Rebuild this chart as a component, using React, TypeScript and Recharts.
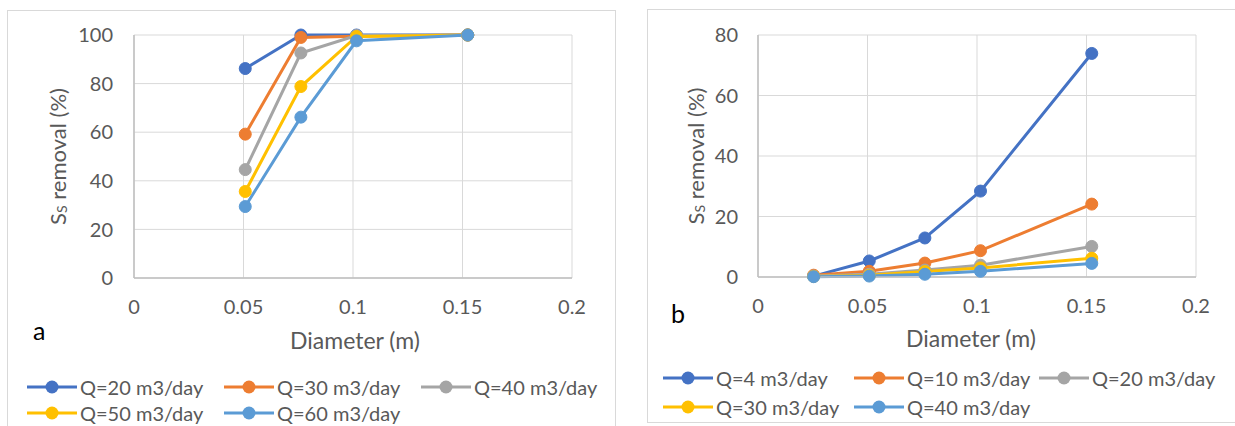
import { CartesianGrid, Line, LineChart, XAxis, YAxis } from 'recharts'

// diameters in metres (2, 3, 4, 6 inch pipes, plus 1 inch in panel b)
const diameterA = [0.0508, 0.0762, 0.1016, 0.1524]
const diameterB = [0.0254, 0.0508, 0.0762, 0.1016, 0.1524]

const namesA = ['Q=20 m3/day', 'Q=30 m3/day', 'Q=40 m3/day', 'Q=50 m3/day', 'Q=60 m3/day']
const q20A = [86.2, 100, 100, 100]
const q30A = [59.2, 99, 99.5, 100]
const q40A = [44.6, 92.6, 99.8, 100]
const q50A = [35.6, 78.8, 99.4, 100]
const q60A = [29.4, 66.2, 97.6, 100]

const namesB = ['Q=4 m3/day', 'Q=10 m3/day', 'Q=20 m3/day', 'Q=30 m3/day', 'Q=40 m3/day']
const q4B = [0.3, 5.3, 12.9, 28.4, 73.9]
const q10B = [0.6, 1.9, 4.6, 8.7, 24.1]
const q20B = [0.3, 0.9, 2.3, 3.9, 10.1]
const q30B = [0.2, 0.6, 1.8, 3.0, 6.2]
const q40B = [0.1, 0.3, 0.9, 1.9, 4.5]

const xTicks = [0, 0.05, 0.1, 0.15, 0.2]
const yTicksA = [0, 20, 40, 60, 80, 100]
const yTicksB = [0, 20, 40, 60, 80]

const colors = ['#4472C4', '#ED7D31', '#A5A5A5', '#FFC000', '#5B9BD5']
const FONT = 'Lato, "Open Sans", sans-serif'
const TEXT = '#595959'

const toPoints = (xs: number[], ys: number[]) => xs.map((d, i) => ({ d, v: ys[i] }))

const seriesA = [q20A, q30A, q40A, q50A, q60A].map((ys, i) => ({
	name: namesA[i],
	data: toPoints(diameterA, ys),
}))
const seriesB = [q4B, q10B, q20B, q30B, q40B].map((ys, i) => ({
	name: namesB[i],
	data: toPoints(diameterB, ys),
}))

const YTitle = ({ viewBox, dx }: { viewBox?: any; dx: number }) => {
	const cx = viewBox.x + dx
	const cy = viewBox.y + viewBox.height / 2
	return (
		<text
			x={cx}
			y={cy}
			transform={`rotate(-90, ${cx}, ${cy})`}
			textAnchor="middle"
			dominantBaseline="central"
			fill={TEXT}
			fontSize={22}
			fontFamily={FONT}
		>
			S
			<tspan fontSize={14} dy={4}>
				S
			</tspan>
			<tspan dy={-4}> removal (%)</tspan>
		</text>
	)
}

const XTitle = ({ viewBox, cx, cy }: { viewBox?: any; cx: number; cy: number }) => (
	<text
		x={cx}
		y={viewBox.y + cy}
		textAnchor="middle"
		dominantBaseline="central"
		fill={TEXT}
		fontSize={23}
		fontFamily={FONT}
	>
		Diameter (m)
	</text>
)

const fmt = (v: number) => String(v)

interface PanelProps {
	series: { name: string; data: { d: number; v: number }[] }[]
	yMax: number
	yTicks: number[]
	width: number
	margin: { top: number; right: number; bottom: number; left: number }
	yLabelDx: number
	xLabelX: number
	xLabelY: number
	yTickMargin: number
}

function Panel({ series, yMax, yTicks, width, margin, yLabelDx, xLabelX, xLabelY, yTickMargin }: PanelProps) {
	return (
		<LineChart width={width} height={426} margin={margin}>
			<CartesianGrid stroke="#D9D9D9" strokeWidth={1} />
			<XAxis
				type="number"
				dataKey="d"
				domain={[0, 0.2]}
				ticks={xTicks}
				tickFormatter={fmt}
				tickLine={false}
				axisLine={{ stroke: '#BFBFBF', strokeWidth: 1.5 }}
				tick={{ fill: TEXT, fontSize: 20, fontFamily: FONT }}
				tickMargin={16}
				height={30}
				allowDuplicatedCategory={false}
				label={<XTitle cx={xLabelX} cy={xLabelY} />}
			/>
			<YAxis
				type="number"
				domain={[0, yMax]}
				ticks={yTicks}
				tickLine={false}
				axisLine={{ stroke: '#BFBFBF', strokeWidth: 1.5 }}
				tick={{ fill: TEXT, fontSize: 20, fontFamily: FONT }}
				tickMargin={yTickMargin}
				width={100}
				label={<YTitle dx={yLabelDx} />}
			/>
			{series.map((s, i) => (
				<Line
					key={s.name}
					data={s.data}
					dataKey="v"
					name={s.name}
					stroke={colors[i]}
					strokeWidth={3}
					dot={{ r: 6, fill: colors[i], stroke: colors[i], strokeWidth: 1 }}
					activeDot={false}
					isAnimationActive={false}
				/>
			))}
		</LineChart>
	)
}

function LegendBlock({
	names,
	cols,
	rows,
}: {
	names: string[]
	cols: number[]
	rows: number[]
}) {
	return (
		<>
			{names.map((n, i) => (
				<div
					key={n}
					style={{
						position: 'absolute',
						left: cols[i % 3],
						top: rows[Math.floor(i / 3)] - 12,
						height: 24,
						display: 'flex',
						alignItems: 'center',
						whiteSpace: 'nowrap',
					}}
				>
					<svg width={52} height={24}>
						<line x1={1} y1={12} x2={51} y2={12} stroke={colors[i]} strokeWidth={3} />
						<circle cx={26} cy={12} r={6.5} fill={colors[i]} />
					</svg>
					<span
						style={{
							marginLeft: 2,
							color: TEXT,
							fontSize: 20,
							fontFamily: FONT,
						}}
					>
						{n}
					</span>
				</div>
			))}
		</>
	)
}

export default function App() {
	return (
		<div
			style={{
				position: 'absolute',
				left: 0,
				top: 0,
				width: 1235,
				height: 426,
				overflow: 'hidden',
				background: '#fff',
			}}
		>
			<div
				style={{
					position: 'absolute',
					left: 7,
					top: 10,
					width: 607,
					height: 430,
					border: '1px solid #D9D9D9',
				}}
			/>
			<div
				style={{
					position: 'absolute',
					left: 647,
					top: 9,
					width: 600,
					height: 412,
					border: '1px solid #D9D9D9',
				}}
			/>
			<div style={{ position: 'absolute', left: 0, top: 0 }}>
				<Panel
					series={seriesA}
					yMax={100}
					yTicks={yTicksA}
					width={620}
					margin={{ top: 35, right: 48, bottom: 118, left: 34 }}
					yLabelDx={23}
					xLabelX={355}
					xLabelY={62}
					yTickMargin={15}
				/>
			</div>
			<div style={{ position: 'absolute', left: 640, top: 0 }}>
				<Panel
					series={seriesB}
					yMax={80}
					yTicks={yTicksB}
					width={595}
					margin={{ top: 35, right: 39, bottom: 119, left: 18 }}
					yLabelDx={37}
					xLabelX={331}
					xLabelY={61}
					yTickMargin={14}
				/>
			</div>
			<div
				style={{
					position: 'absolute',
					left: 33,
					top: 315,
					fontSize: 25,
					fontFamily: FONT,
					color: '#000',
				}}
			>
				a
			</div>
			<div
				style={{
					position: 'absolute',
					left: 671,
					top: 298,
					fontSize: 25,
					fontFamily: FONT,
					color: '#000',
				}}
			>
				b
			</div>
			<LegendBlock names={namesA} cols={[26, 223, 420]} rows={[387, 413]} />
			<LegendBlock names={namesB} cols={[662, 853, 1038]} rows={[378, 407]} />
		</div>
	)
}
